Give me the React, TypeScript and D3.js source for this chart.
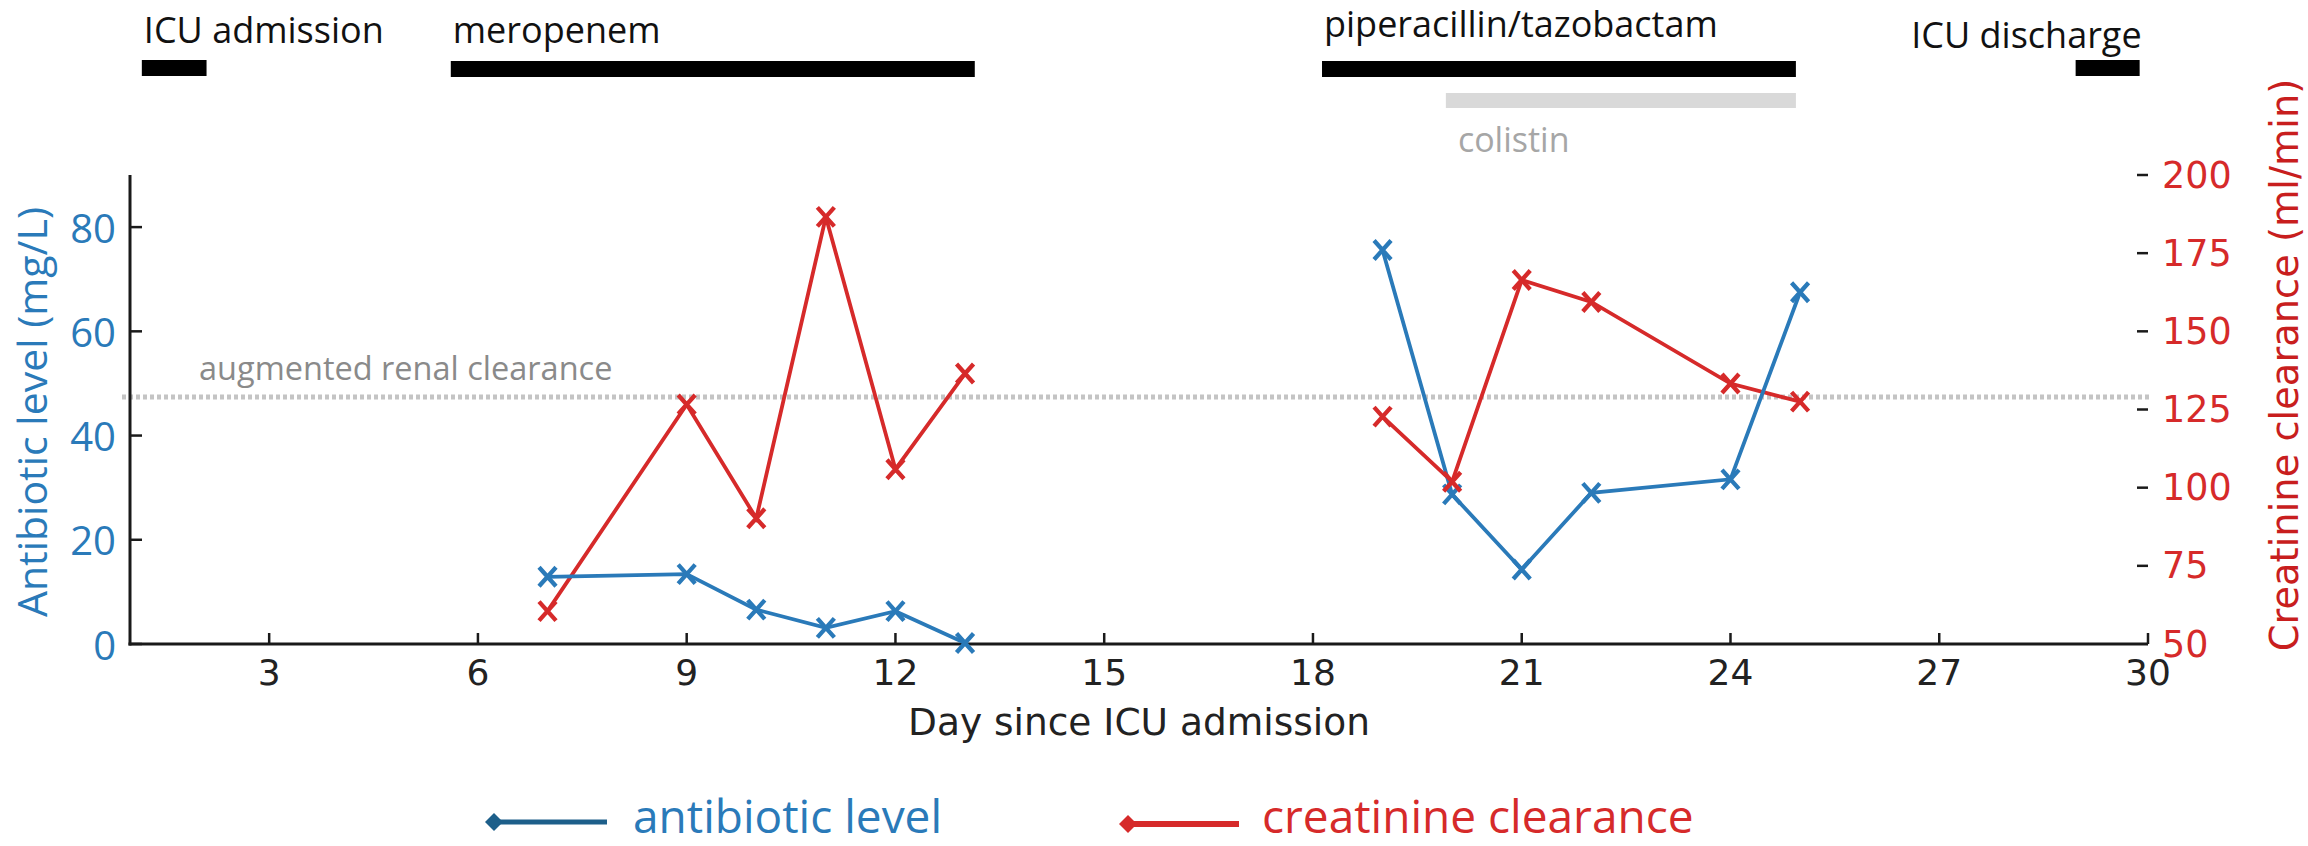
import React from "react";
import * as d3 from "d3";

// ---- data ----
const sampleDays = [7, 9, 10, 11, 12, 13, 19, 20, 21, 22, 24, 25];
const antibioticLevel = [12.9, 13.4, 6.6, 3.1, 6.3, 0.2, 75.6, 28.7, 14.3, 29.0, 31.6, 67.5];
const creatinineClearance = [60.5, 126.6, 90.2, 186.6, 105.9, 136.5, 122.7, 101.9, 166.4, 159.4, 133.3, 127.5];

const xTicks = [3, 6, 9, 12, 15, 18, 21, 24, 27, 30];
const leftTicks = [0, 20, 40, 60, 80];
const rightTicks = [50, 75, 100, 125, 150, 175, 200];
const arcThreshold = 129;

const timelineLabels = ["ICU admission", "meropenem", "piperacillin/tazobactam", "ICU discharge"];
const timelineStart = [1.17, 5.61, 18.13, 28.96];
const timelineEnd = [2.1, 13.14, 24.94, 29.88];
const colistinStart = 19.91;
const colistinEnd = 24.94;

// ---- layout ----
const W = 2308;
const H = 846;
const BLUE = "#2a7ab9";
const RED = "#d62a2a";
const SANS = "'Open Sans', 'Noto Sans', sans-serif";
const DEJAVU = "'DejaVu Sans', sans-serif";

const x = d3.scaleLinear().domain([1, 30]).range([130, 2148]);
const yL = d3.scaleLinear().domain([0, 90]).range([644, 175]);
const yR = d3.scaleLinear().domain([50, 200]).range([644, 175]);

function segments(days: number[], vals: number[]) {
  const segs: [number, number][][] = [];
  let cur: [number, number][] = [];
  days.forEach((d, i) => {
    if (i > 0 && d - days[i - 1] > 3) {
      segs.push(cur);
      cur = [];
    }
    cur.push([d, vals[i]]);
  });
  if (cur.length) segs.push(cur);
  return segs;
}

const Cross = ({ cx, cy, color }: { cx: number; cy: number; color: string }) => (
  <path
    d={`M${cx - 8.5},${cy - 9.5}L${cx + 8.5},${cy + 9.5}M${cx - 8.5},${cy + 9.5}L${cx + 8.5},${cy - 9.5}`}
    stroke={color}
    strokeWidth={4.3}
    fill="none"
  />
);

export default function App() {
  const lineL = d3.line<[number, number]>().x((d) => x(d[0])).y((d) => yL(d[1]));
  const lineR = d3.line<[number, number]>().x((d) => x(d[0])).y((d) => yR(d[1]));
  const blueSegs = segments(sampleDays, antibioticLevel);
  const redSegs = segments(sampleDays, creatinineClearance);
  const barY = [60, 61, 61, 60];
  const labelY = [43, 43, 37, 48];

  return (
    <svg
      width={W}
      height={H}
      style={{ position: "absolute", left: 0, top: 0, background: "#fff" }}
    >
      <rect x={0} y={0} width={W} height={H} fill="#fff" />

      {/* timeline bars */}
      {timelineLabels.map((lab, i) => {
        const last = i === timelineLabels.length - 1;
        return (
          <g key={lab}>
            <rect
              x={x(timelineStart[i])}
              y={barY[i]}
              width={x(timelineEnd[i]) - x(timelineStart[i])}
              height={16}
              fill="#000"
            />
            <text
              x={last ? x(timelineEnd[i]) + 2 : x(timelineStart[i]) + 2}
              y={labelY[i]}
              textAnchor={last ? "end" : "start"}
              fontFamily={SANS}
              fontSize={36}
              fill="#111"
            >
              {lab}
            </text>
          </g>
        );
      })}
      <rect
        x={x(colistinStart)}
        y={93}
        width={x(colistinEnd) - x(colistinStart)}
        height={15}
        fill="#d9d9d9"
      />
      <text x={x(colistinStart) + 12} y={152} fontFamily={SANS} fontSize={34} fill="#a6a6a6">
        colistin
      </text>

      {/* ARC threshold */}
      <line
        x1={122}
        x2={2152}
        y1={yR(arcThreshold)}
        y2={yR(arcThreshold)}
        stroke="#c4c4c4"
        strokeWidth={5}
        strokeDasharray="4 3"
      />
      <text x={199} y={380} fontFamily={SANS} fontSize={32.5} fill="#8a8a8a">
        augmented renal clearance
      </text>

      {/* axes */}
      <line x1={130} x2={130} y1={175} y2={645.5} stroke="#1a1a1a" strokeWidth={3} />
      <line x1={128.5} x2={2148} y1={644} y2={644} stroke="#1a1a1a" strokeWidth={3} />
      {xTicks.map((t) => (
        <g key={"x" + t}>
          <line x1={x(t)} x2={x(t)} y1={644} y2={633} stroke="#1a1a1a" strokeWidth={2.5} />
          <text x={x(t)} y={685} textAnchor="middle" fontFamily={DEJAVU} fontSize={36} fill="#222">
            {t}
          </text>
        </g>
      ))}
      {leftTicks.map((t) => (
        <g key={"l" + t}>
          <line x1={130} x2={142} y1={yL(t)} y2={yL(t)} stroke="#1a1a1a" strokeWidth={2.5} />
          <text
            x={116}
            y={yL(t)}
            textAnchor="end"
            dominantBaseline="central"
            fontFamily={SANS}
            fontSize={40}
            fill={BLUE}
          >
            {t}
          </text>
        </g>
      ))}
      {rightTicks.map((t) => (
        <g key={"r" + t}>
          {t !== 50 && (
            <line x1={2137} x2={2148} y1={yR(t)} y2={yR(t)} stroke="#1a1a1a" strokeWidth={2.5} />
          )}
          <text
            x={2162}
            y={yR(t)}
            dominantBaseline="central"
            fontFamily={DEJAVU}
            fontSize={36.5}
            fill={RED}
          >
            {t}
          </text>
        </g>
      ))}
      <text
        x={(130 + 2148) / 2}
        y={735}
        textAnchor="middle"
        fontFamily={DEJAVU}
        fontSize={37.5}
        fill="#222"
      >
        Day since ICU admission
      </text>
      <text
        transform={`translate(47,412) rotate(-90)`}
        textAnchor="middle"
        fontFamily={SANS}
        fontSize={41}
        fill={BLUE}
      >
        Antibiotic level (mg/L)
      </text>
      <text
        transform={`translate(2298,365) rotate(-90)`}
        textAnchor="middle"
        fontFamily={DEJAVU}
        fontSize={38.4}
        fill="#c81e1e"
      >
        Creatinine clearance (ml/min)
      </text>

      {/* series */}
      {redSegs.map((s, i) => (
        <path key={"rl" + i} d={lineR(s) || ""} stroke={RED} strokeWidth={3.8} fill="none" />
      ))}
      {blueSegs.map((s, i) => (
        <path key={"bl" + i} d={lineL(s) || ""} stroke={BLUE} strokeWidth={3.8} fill="none" />
      ))}
      {sampleDays.map((d, i) => (
        <Cross key={"bm" + i} cx={x(d)} cy={yL(antibioticLevel[i])} color={BLUE} />
      ))}
      {sampleDays.map((d, i) => (
        <Cross key={"rm" + i} cx={x(d)} cy={yR(creatinineClearance[i])} color={RED} />
      ))}

      {/* legend */}
      <g>
        <path d="M485,822 L494,813 L503,822 L494,831 Z" fill="#1d5f8a" />
        <line x1={494} x2={607} y1={822} y2={822} stroke="#1d5f8a" strokeWidth={5} />
        <text x={633} y={833} fontFamily={SANS} fontSize={46} fill={BLUE}>
          antibiotic level
        </text>
        <path d="M1119,824 L1128,815 L1137,824 L1128,833 Z" fill={RED} />
        <line x1={1128} x2={1239} y1={824} y2={824} stroke={RED} strokeWidth={6} />
        <text x={1262} y={833} fontFamily={SANS} fontSize={46} fill={RED}>
          creatinine clearance
        </text>
      </g>
    </svg>
  );
}
